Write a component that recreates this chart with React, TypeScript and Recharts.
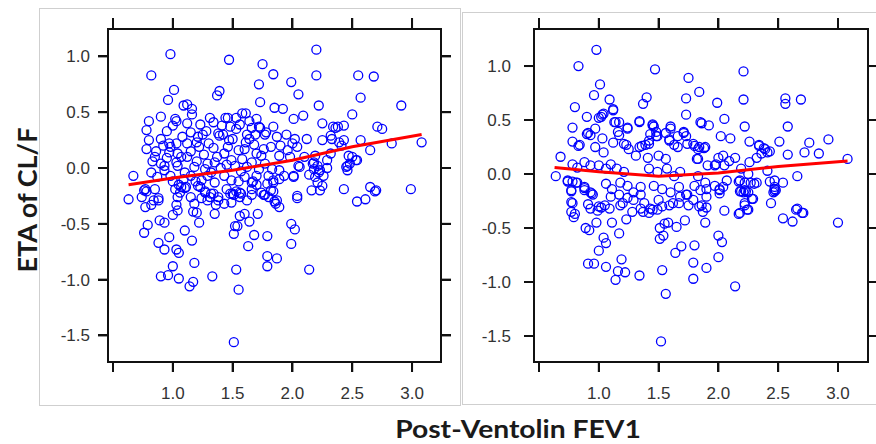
import React from 'react';
import { ScatterChart, Scatter, XAxis, YAxis } from 'recharts';

const xTicks = [0.5, 1.0, 1.5, 2.0, 2.5, 3.0];
const yTicks = [-1.5, -1.0, -0.5, 0.0, 0.5, 1.0];

const leftPoints: [number, number][] = [
  [0.98,1.02],[0.82,0.83],[1.47,0.97],[1.75,0.93],[1.84,0.84],[2.20,1.06],[2.20,0.83],[2.55,0.83],[2.68,0.82],[1.72,0.75],
  [1.99,0.77],[2.05,0.66],[1.39,0.69],[1.37,0.65],[1.01,0.70],[0.96,0.61],[1.73,0.59],[2.57,0.63],[2.22,0.56],[2.91,0.56],
  [1.09,0.56],[1.12,0.57],[1.16,0.53],[1.16,0.48],[1.85,0.54],[1.92,0.53],[0.90,0.46],[0.80,0.42],[0.78,0.34],[1.02,0.44],
  [1.03,0.42],[1.00,0.38],[1.12,0.40],[1.23,0.39],[1.34,0.41],[1.44,0.45],[1.46,0.45],[1.48,0.37],[1.61,0.49],[1.70,0.44],
  [1.72,0.37],[1.78,0.32],[1.84,0.37],[2.01,0.44],[2.09,0.47],[2.25,0.40],[2.34,0.37],[2.36,0.36],[2.38,0.37],[2.43,0.38],
  [2.50,0.48],[2.71,0.37],[2.75,0.35],[2.83,0.22],[3.08,0.23],[2.57,0.25],[2.65,0.16],
  [1.56,0.39],[1.41,0.38],[1.73,0.36],[1.66,0.36],[1.53,0.35],[1.15,0.32],[1.21,0.28],[1.39,0.29],[1.42,0.30],[1.38,0.31],
  [1.62,0.30],[1.64,0.26],[1.77,0.30],[0.90,0.26],[0.92,0.20],[0.97,0.22],[0.98,0.19],[1.03,0.22],[1.12,0.22],[1.20,0.23],
  [1.22,0.19],[0.78,0.17],[0.97,0.14],[1.04,0.13],[1.12,0.10],[1.34,0.18],[1.46,0.19],[1.43,0.13],[1.55,0.16],[1.60,0.17],
  [1.70,0.13],[1.74,0.11],[1.82,0.19],[0.83,0.06],[0.90,0.04],[0.93,0.02],[1.03,0.05],[1.04,0.02],[1.20,0.06],[1.29,0.04],
  [1.35,0.05],[1.49,0.07],[1.52,0.02],[1.66,0.05],[1.77,0.04],[0.67,-0.07],[0.82,-0.04],[0.93,-0.02],[0.98,-0.07],[1.10,-0.04],
  [1.15,-0.07],[1.24,-0.11],[1.29,-0.07],[1.35,-0.13],[1.43,-0.07],[1.49,-0.11],[1.60,-0.08],[1.66,-0.13],[1.70,-0.07],[1.80,-0.07],
  [1.84,-0.13],[0.77,-0.19],[0.78,-0.21],[0.85,-0.19],[1.02,-0.19],[1.06,-0.22],[1.11,-0.17],[1.21,-0.16],[1.27,-0.22],[1.32,-0.23],
  [1.45,-0.19],[1.50,-0.23],[1.56,-0.22],[1.66,-0.19],[1.74,-0.22],[1.82,-0.20],
  [1.87,0.28],[2.02,0.26],[2.00,0.22],[2.04,0.19],[2.12,0.26],[2.25,0.25],[2.32,0.29],[2.33,0.26],[2.39,0.23],[2.41,0.20],
  [2.43,0.25],[1.89,0.11],[1.96,0.16],[1.98,0.10],[2.19,0.11],[2.18,0.05],[2.21,0.02],[2.32,0.13],[2.29,0.07],[2.47,0.11],
  [2.50,0.10],[2.53,0.07],[2.46,0.02],[2.46,-0.02],[1.83,-0.01],[1.89,-0.02],[1.93,-0.07],[2.05,0.02],[2.01,-0.07],[2.18,-0.01],
  [2.22,-0.04],[2.26,-0.07],[2.19,-0.08],[2.25,-0.16],[2.21,-0.13],[1.84,-0.11],[1.89,-0.10],[2.16,-0.20],[2.43,-0.19],[2.65,-0.17],
  [2.70,-0.20],[2.99,-0.19],[2.04,-0.25],[2.54,-0.30],[2.61,-0.28],
  [0.63,-0.28],[0.74,-0.26],[0.77,-0.35],[0.82,-0.33],[0.88,-0.29],[0.89,-0.47],[0.93,-0.49],[0.79,-0.51],[0.76,-0.58],[1.00,-0.42],
  [1.04,-0.38],[1.03,-0.33],[0.97,-0.62],[0.88,-0.67],[0.93,-0.73],[1.10,-0.56],[1.16,-0.65],[1.03,-0.73],[1.05,-0.76],[1.18,-0.85],
  [1.00,-0.88],[0.90,-0.97],[0.96,-0.96],[1.05,-0.99],[1.14,-1.06],[1.17,-1.02],[1.33,-0.97],[1.17,-0.39],[1.20,-0.40],[1.18,-0.32],
  [1.22,-0.49],[1.35,-0.41],[1.36,-0.33],[1.29,-0.29],[1.43,-0.32],[1.49,-0.31],[1.56,-0.43],[1.60,-0.41],[1.52,-0.52],[1.51,-0.59],
  [1.54,-0.52],[1.64,-0.48],[1.71,-0.41],[1.68,-0.60],[1.79,-0.61],[1.63,-0.70],[1.79,-0.79],[1.79,-0.88],[1.53,-0.91],[1.55,-1.09],
  [1.51,-1.56],[1.87,-0.81],[1.51,-0.24],[1.57,-0.23],[1.66,-0.24],[1.77,-0.24],[1.85,-0.30],[1.04,-0.26],[1.15,-0.26],[1.24,-0.27],
  [1.38,-0.26],[1.84,-0.21],[1.86,-0.32],[1.89,-0.35],[2.04,-0.27],[2.23,-0.20],[2.69,-0.21],[1.99,-0.50],[2.02,-0.55],[1.99,-0.68],
  [2.14,-0.91],
  [0.76,-0.20],[0.84,-0.29],[0.88,-0.27],[1.00,-0.12],[1.05,-0.15],[1.07,-0.17],[1.10,-0.18],[1.19,-0.12],[1.23,-0.17],[1.27,-0.21],
  [1.31,-0.26],[1.34,-0.23],[1.38,-0.29],[1.48,-0.23],[1.53,-0.21],[1.56,-0.26],[1.62,-0.29],[1.67,-0.12],[1.70,-0.15],[1.76,-0.24],
  [1.80,-0.26],[1.87,-0.29],[2.01,-0.08],[2.06,0.01],[2.17,0.04],[2.23,-0.02],[2.29,0.00],[2.45,0.01],[2.48,0.04],[2.54,0.07],
  [0.86,0.15],[0.95,0.09],[1.08,0.28],[1.15,0.15],[1.26,0.12],[1.30,0.22],[1.50,0.26],[1.58,0.08],[1.68,0.21],[1.90,0.20],
  [1.27,-0.01],[1.40,0.00],[1.57,-0.03],[1.62,0.01],[1.72,-0.01],[1.31,0.45],[1.28,0.33],[1.53,0.45],[1.64,0.42],[1.58,0.49],
  [0.80,0.25],[0.85,0.10],[0.87,-0.08],[0.95,0.33],[1.07,0.10],[1.09,-0.10],[1.18,0.01],[1.25,0.30],[1.32,-0.04],[1.37,0.10],
  [1.45,0.03],[1.47,0.25],[1.55,-0.12],[1.61,0.23],[1.69,0.30],[1.76,0.17],[1.79,-0.14],[1.95,0.30],[2.10,0.10],[2.14,-0.06],
];

const rightPoints: [number, number][] = [
  [0.98,1.15],[0.83,1.00],[1.47,0.97],[1.75,0.89],[1.84,0.76],[2.21,0.95],[2.21,0.69],[2.56,0.70],[2.56,0.65],[2.69,0.69],
  [1.01,0.83],[0.96,0.73],[1.09,0.69],[0.80,0.62],[1.12,0.59],[1.37,0.65],[1.40,0.71],[1.73,0.70],[1.73,0.55],[1.99,0.66],
  [2.05,0.51],[2.22,0.44],[2.58,0.44],[0.90,0.53],[1.00,0.52],[1.03,0.55],[0.78,0.43],[1.14,0.48],[1.24,0.42],[1.34,0.48],
  [1.45,0.46],[1.46,0.44],[1.60,0.44],[1.86,0.47],[1.92,0.45],[2.02,0.35],[2.10,0.33],[0.78,0.30],[0.84,0.27],[0.91,0.38],
  [0.93,0.36],[1.03,0.33],[1.16,0.39],[1.17,0.36],[1.23,0.27],[1.34,0.25],[1.39,0.27],[1.42,0.31],[1.48,0.39],[1.49,0.35],
  [1.56,0.38],[1.59,0.31],[1.63,0.27],[1.71,0.38],[1.73,0.35],[1.79,0.28],[1.84,0.25],[1.88,0.24],[2.26,0.30],[2.34,0.27],
  [2.38,0.24],[2.43,0.21],[2.51,0.30],[2.76,0.29],[2.92,0.32],[2.72,0.20],[2.84,0.19],[2.58,0.18],[3.08,0.14],[2.66,-0.02],
  [0.68,0.16],[0.64,-0.02],[0.74,-0.07],[0.78,-0.07],[0.82,-0.08],[0.77,-0.15],[0.88,-0.13],[0.94,-0.18],[0.77,-0.26],[0.77,-0.35],
  [0.80,-0.37],[0.91,-0.28],[1.00,-0.30],[1.05,-0.29],[2.04,-0.12],[2.01,-0.18],[2.17,-0.07],[2.19,-0.16],[2.23,-0.16],[2.27,-0.08],
  [2.30,-0.09],[2.43,-0.07],[2.47,-0.12],[2.48,-0.15],[2.54,-0.08],[2.44,-0.27],[2.22,-0.27],[2.25,-0.33],[2.29,-0.23],[2.05,-0.34],
  [2.65,-0.33],[2.70,-0.36],
  [0.79,-0.40],[0.93,-0.32],[0.99,-0.34],[1.02,-0.31],[0.89,-0.50],[0.92,-0.52],[0.98,-0.45],[1.04,-0.59],[1.06,-0.64],[1.00,-0.71],
  [1.11,-0.45],[1.17,-0.55],[1.23,-0.42],[0.91,-0.83],[0.96,-0.83],[1.06,-0.86],[1.19,-0.79],[1.16,-0.90],[1.22,-0.91],[1.14,-0.98],
  [1.34,-0.94],[1.52,-1.55],[1.53,-0.89],[1.56,-1.11],[1.51,-0.50],[1.55,-0.46],[1.58,-0.45],[1.65,-0.49],[1.72,-0.43],[1.51,-0.60],
  [1.54,-0.57],[1.69,-0.67],[1.64,-0.73],[1.80,-0.66],[1.79,-0.82],[1.79,-0.97],[1.90,-0.87],[1.89,-0.45],[2.00,-0.57],[2.03,-0.63],
  [2.00,-0.77],[2.14,-1.04],[2.17,-0.37],[2.24,-0.33],[2.54,-0.41],[2.62,-0.44],[3.00,-0.45],[1.28,-0.35],[1.37,-0.35],[1.45,-0.33],
  [1.53,-0.30],[1.59,-0.29],[1.67,-0.27],[1.75,-0.29],[1.84,-0.30],[1.87,-0.35],[1.42,-0.36],[1.35,-0.32],[1.20,-0.27],[1.09,-0.32],
  [0.83,0.26],[0.90,0.37],[0.97,0.42],[1.02,0.53],[1.04,0.56],[1.12,0.60],[0.97,0.25],[1.04,0.20],[1.13,0.48],[1.17,0.48],
  [1.24,0.43],[1.12,0.29],[1.21,0.28],[1.25,0.23],[0.78,0.09],[0.82,0.06],[0.88,0.11],[0.93,0.08],[0.74,-0.06],[0.81,-0.08],
  [0.88,-0.12],[0.93,-0.17],[1.00,0.08],[1.06,0.05],[1.10,0.09],[1.15,0.05],[1.21,0.02],[1.06,-0.09],[1.11,-0.14],[1.18,-0.08],
  [1.24,-0.11],[1.29,-0.17],[1.35,-0.12],[1.34,0.49],[1.36,0.26],[1.42,0.28],[1.45,0.45],[1.43,0.37],[1.48,0.35],[1.31,0.17],
  [1.41,0.15],[1.50,0.17],[1.56,0.14],[1.42,0.05],[1.49,0.02],[1.57,0.05],[1.63,-0.02],[1.68,0.02],[1.46,-0.11],[1.53,-0.14],
  [1.60,-0.17],[1.67,-0.12],[1.74,-0.19],[1.80,-0.11],[1.85,-0.15],[1.60,0.42],[1.59,0.32],[1.66,0.35],[1.71,0.39],[1.80,0.26],
  [1.82,0.14],[1.85,0.48],[1.66,0.25],[1.74,0.28],
  [2.34,0.26],[2.39,0.23],[2.36,0.19],[2.41,0.20],[2.32,0.15],[1.83,0.23],[1.89,0.25],[1.83,0.14],[2.00,0.15],[2.04,0.17],
  [2.09,0.12],[1.98,0.09],[2.14,0.15],[2.26,0.11],[2.19,0.05],[2.25,0.00],[2.18,-0.06],[2.32,-0.08],[2.22,-0.08],[2.21,-0.17],
  [2.25,-0.17],[2.41,0.03],[2.47,-0.06],[2.47,-0.14],[2.46,-0.17],[1.83,-0.02],[1.89,-0.08],[1.90,-0.14],[1.97,-0.11],[2.01,-0.14],
  [2.07,-0.06],[1.91,0.08],[1.97,0.08],[2.05,0.08],
  [0.77,-0.16],[0.88,-0.15],[0.95,-0.19],[0.78,-0.27],[1.10,-0.21],[1.17,-0.19],[1.18,-0.29],[1.24,-0.22],[1.29,-0.24],[1.35,-0.19],
  [1.38,-0.27],[1.43,-0.32],[1.49,-0.33],[1.50,-0.24],[1.62,-0.27],[1.68,-0.21],[1.73,-0.19],[1.79,-0.24],[1.90,-0.31],[1.90,-0.21],
  [2.01,-0.15],[2.18,-0.16],[2.22,-0.15],[1.86,-0.29],[2.18,-0.36],[2.22,-0.29],[2.28,-0.23],[2.47,-0.16],[2.66,-0.32],[2.71,-0.36],
];

const leftFit: [number, number][] = [[0.63,-0.15],[1.0,-0.09],[1.5,-0.02],[2.0,0.07],[2.5,0.19],[3.08,0.30]];
const rightFit: [number, number][] = [[0.63,0.06],[1.0,0.02],[1.5,-0.02],[2.0,0.01],[2.5,0.07],[3.08,0.12]];

const toObj = (arr: [number, number][]) => arr.map(([x, y]) => ({ x, y }));
const leftData = toObj(leftPoints);
const rightData = toObj(rightPoints);
const leftFitData = toObj(leftFit);
const rightFitData = toObj(rightFit);

const TICK_STYLE = { fill: '#333', fontSize: 17, fontFamily: 'Arial' };
const LINE_STYLE = { stroke: '#ff0000', strokeWidth: 3 };
const MARGIN = { top: 0, right: 0, bottom: 0, left: 0 };
const LEFT_XD: [number, number] = [0.458, 3.242];
const LEFT_YD: [number, number] = [-1.738, 1.2455];
const RIGHT_XD: [number, number] = [0.458, 3.251];
const RIGHT_YD: [number, number] = [-1.741, 1.343];

const CHART_H = 410;
const TOP_AX = 29;
const BOTTOM_AX = 48;

const fmtX = (v: number) => (v === 0.5 ? '' : v.toFixed(1));
const fmtY = (v: number) => v.toFixed(1);
const blank = () => '';

const Circle = (props: any) => (
  <circle cx={props.cx} cy={props.cy} r={4.5} fill="none" stroke="#0000ff" strokeWidth={1.3} />
);
const NoShape = () => <g />;

type PanelProps = {
  data: { x: number; y: number }[];
  fit: { x: number; y: number }[];
  width: number;
  leftW: number;
  rightW: number;
  xDomain: [number, number];
  yDomain: [number, number];
  leftMargin: number;
};

function Panel({ data, fit, width, leftW, rightW, xDomain, yDomain, leftMargin }: PanelProps) {
  return (
    <ScatterChart width={width} height={CHART_H} margin={MARGIN}>
      <XAxis xAxisId="b" type="number" dataKey="x" domain={xDomain} allowDataOverflow ticks={xTicks}
        tickFormatter={fmtX} tick={TICK_STYLE} tickSize={10} tickMargin={15} height={BOTTOM_AX}
        stroke="#111" strokeWidth={2} interval={0} />
      <XAxis xAxisId="t" type="number" dataKey="x" orientation="top" domain={xDomain} allowDataOverflow
        ticks={xTicks} tickFormatter={blank} tickSize={11} height={TOP_AX} stroke="#111" strokeWidth={2} interval={0} />
      <YAxis yAxisId="l" type="number" dataKey="y" domain={yDomain} allowDataOverflow ticks={yTicks}
        tickFormatter={fmtY} tick={TICK_STYLE} tickSize={10} tickMargin={leftMargin} width={leftW}
        stroke="#111" strokeWidth={2} interval={0} />
      <YAxis yAxisId="r" type="number" dataKey="y" orientation="right" domain={yDomain} allowDataOverflow
        ticks={yTicks} tickFormatter={blank} tickSize={10} width={rightW} stroke="#111" strokeWidth={2} interval={0} />
      <Scatter xAxisId="b" yAxisId="l" data={data} shape={Circle} isAnimationActive={false} />
      <Scatter xAxisId="t" yAxisId="r" data={fit} shape={NoShape} line={LINE_STYLE}
        lineType="joint" isAnimationActive={false} />
    </ScatterChart>
  );
}

// Backing frame (box + tick marks) placed under each chart, aligned with the chart's own axis layout.
function AxisFrame({ offsetX, width, leftW, rightW, xDomain, yDomain }: {
  offsetX: number; width: number; leftW: number; rightW: number;
  xDomain: [number, number]; yDomain: [number, number];
}) {
  const x0 = offsetX + leftW;
  const x1 = offsetX + width - rightW;
  const y0 = TOP_AX;
  const y1 = CHART_H - BOTTOM_AX;
  const sx = (v: number) => x0 + ((v - xDomain[0]) / (xDomain[1] - xDomain[0])) * (x1 - x0);
  const sy = (v: number) => y1 - ((v - yDomain[0]) / (yDomain[1] - yDomain[0])) * (y1 - y0);
  const c = '#111';
  const parts: React.ReactNode[] = [];
  parts.push(<div key="box" style={{ position: 'absolute', left: x0 - 1, top: y0 - 1, width: x1 - x0 + 2, height: y1 - y0 + 2, border: `2px solid ${c}`, boxSizing: 'border-box' }} />);
  xTicks.forEach((t, i) => {
    const px = sx(t);
    parts.push(<div key={'bt' + i} style={{ position: 'absolute', left: px - 1, top: y1, width: 2, height: 10, background: c }} />);
    parts.push(<div key={'tt' + i} style={{ position: 'absolute', left: px - 1, top: y0 - 11, width: 2, height: 11, background: c }} />);
  });
  yTicks.forEach((t, i) => {
    const py = sy(t);
    parts.push(<div key={'lt' + i} style={{ position: 'absolute', left: x0 - 10, top: py - 1, width: 10, height: 2, background: c }} />);
    parts.push(<div key={'rt' + i} style={{ position: 'absolute', left: x1, top: py - 1, width: 10, height: 2, background: c }} />);
  });
  return <>{parts}</>;
}

const labelFont = "Lato, 'Open Sans', sans-serif";

export default function App() {
  return (
    <div style={{ position: 'absolute', left: 0, top: 0, width: 876, height: 444, background: '#fff', overflow: 'hidden' }}>
      <div style={{ position: 'absolute', left: 39, top: 8, width: 420, height: 396, border: '1.5px solid #cfcfcf' }} />
      <div style={{ position: 'absolute', left: 462, top: 12, width: 430, height: 391, border: '1.5px solid #cfcfcf' }} />
      <AxisFrame offsetX={0} width={460} leftW={108} rightW={19} xDomain={LEFT_XD} yDomain={LEFT_YD} />
      <AxisFrame offsetX={462} width={414} leftW={72} rightW={8} xDomain={RIGHT_XD} yDomain={RIGHT_YD} />
      <div style={{ position: 'absolute', left: 0, top: 0, width: 460, height: CHART_H }}>
        <Panel data={leftData} fit={leftFitData} width={460} leftW={108} rightW={19}
          xDomain={LEFT_XD} yDomain={LEFT_YD} leftMargin={8} />
      </div>
      <div style={{ position: 'absolute', left: 462, top: 0, width: 414, height: CHART_H }}>
        <Panel data={rightData} fit={rightFitData} width={414} leftW={72} rightW={8}
          xDomain={RIGHT_XD} yDomain={RIGHT_YD} leftMargin={13} />
      </div>
      <div style={{
        position: 'absolute', left: 25.5, top: 200, width: 220, height: 27, lineHeight: '27px',
        transform: 'translate(-50%, -50%) rotate(-90deg)', textAlign: 'center',
        fontFamily: labelFont, fontWeight: 'bold', fontSize: 27, color: '#1a1a1a', whiteSpace: 'nowrap',
      }}>ETA of CL/F</div>
      <div style={{
        position: 'absolute', left: 367.5, top: 416, width: 300, height: 25, lineHeight: '25px', textAlign: 'center',
        transform: 'scaleX(1.13)', transformOrigin: '50% 50%',
        fontFamily: labelFont, fontWeight: 'bold', fontSize: 25, color: '#1a1a1a', whiteSpace: 'nowrap',
      }}>Post-Ventolin FEV1</div>
    </div>
  );
}
